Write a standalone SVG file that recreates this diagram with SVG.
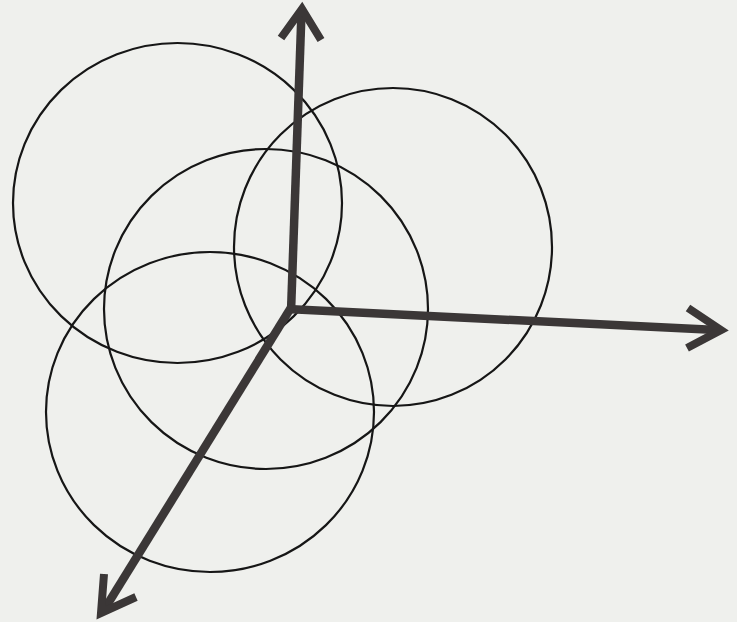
<svg xmlns="http://www.w3.org/2000/svg" width="737" height="622" viewBox="0 0 737 622">
  <style>
    .circle { fill: none; stroke: #161616; stroke-width: 2.2; }
    .shaft { fill: none; stroke: #3b3737; stroke-width: 8.5; stroke-linecap: butt; }
    .head { fill: none; stroke: #3b3737; stroke-width: 8; stroke-linejoin: miter; stroke-miterlimit: 10; stroke-linecap: butt; }
  </style>
  <rect x="0" y="0" width="737" height="622" fill="#eff0ed"/>
  <g id="circle-upper-left"><ellipse class="circle" cx="177.5" cy="203" rx="164.5" ry="160"/></g>
  <g id="circle-upper-right"><ellipse class="circle" cx="393" cy="247" rx="159" ry="159"/></g>
  <g id="circle-middle"><ellipse class="circle" cx="266" cy="309" rx="162" ry="160"/></g>
  <g id="circle-lower-left"><ellipse class="circle" cx="210" cy="412" rx="164" ry="160"/></g>
  <g id="connectors">
    <g id="arrow-up">
      <line class="shaft" x1="291" y1="312" x2="301.5" y2="12"/>
      <polyline class="head" points="281,38 302,9 321,40"/>
    </g>
    <g id="arrow-right">
      <line class="shaft" x1="287" y1="309" x2="717" y2="330"/>
      <polyline class="head" points="688,308 721,330 687,348"/>
    </g>
    <g id="arrow-down-left">
      <line class="shaft" x1="292" y1="306" x2="104" y2="610"/>
      <polyline class="head" points="104,574 101,613 136,597"/>
    </g>
  </g>
</svg>
